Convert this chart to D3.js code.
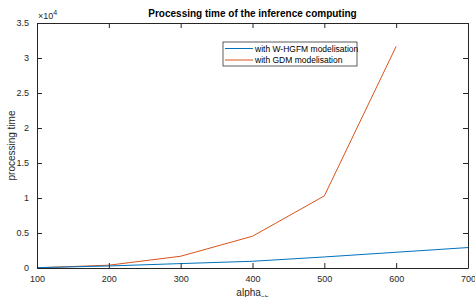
<!DOCTYPE html>
<html>
<head>
<meta charset="utf-8">
<script src="https://cdn.jsdelivr.net/npm/d3@7"></script>
<style>
  body { margin: 0; background: #fff; }
  svg { display: block; font-family: "Liberation Sans", Arial, sans-serif; }
</style>
</head>
<body>
<div id="chart"></div>
<script>
// values
const alpha = [100, 200, 300, 400, 500, 600, 700];
const hgfmTime = [50, 290, 630, 960, 1580, 2250, 2920];
const gdmAlpha = [100, 200, 300, 400, 500, 600];
const gdmTime = [30, 400, 1680, 4540, 10300, 31660];
const yTicks = [0, 0.5, 1, 1.5, 2, 2.5, 3, 3.5];
const seriesNames = ['with W-HGFM modelisation', 'with GDM modelisation'];

const width = 475, height = 297;
const margin = { top: 23, right: 7, bottom: 29, left: 37 };
const axisColor = '#262626';

const svg = d3.select('#chart').append('svg')
  .attr('width', width)
  .attr('height', height);

const x = d3.scaleLinear().domain([100, 700]).range([margin.left, width - margin.right]);
const y = d3.scaleLinear().domain([0, 35000]).range([height - margin.bottom, margin.top]);

const line = d3.line().x(d => x(d[0])).y(d => y(d[1]));

// plot lines
svg.append('path')
  .datum(d3.zip(gdmAlpha, gdmTime))
  .attr('d', line)
  .attr('fill', 'none')
  .attr('stroke', '#D95319')
  .attr('stroke-width', 1);

svg.append('path')
  .datum(d3.zip(alpha, hgfmTime))
  .attr('d', line)
  .attr('fill', 'none')
  .attr('stroke', '#0072BD')
  .attr('stroke-width', 1);

// axes, matlab style (ticks inside, box all round)
const tickLen = 5;
const styleAxis = g => {
  g.select('.domain').attr('stroke', axisColor);
  g.selectAll('.tick line').attr('stroke', axisColor);
  g.selectAll('.tick text').attr('fill', axisColor).style('font-size', '9px');
};

svg.append('g')
  .attr('transform', `translate(0,${y(0)})`)
  .call(d3.axisBottom(x).tickValues(alpha).tickSizeInner(-tickLen).tickSizeOuter(0).tickPadding(8))
  .call(styleAxis);

svg.append('g')
  .attr('transform', `translate(0,${y(35000)})`)
  .call(d3.axisTop(x).tickValues(alpha).tickSizeInner(-tickLen).tickSizeOuter(0).tickFormat(''))
  .call(styleAxis);

svg.append('g')
  .attr('transform', `translate(${x(100)},0)`)
  .call(d3.axisLeft(y).tickValues(yTicks.map(v => v * 1e4)).tickSizeInner(-tickLen).tickSizeOuter(0)
    .tickPadding(8).tickFormat(v => d3.format('~g')(v / 1e4)))
  .call(styleAxis);

svg.append('g')
  .attr('transform', `translate(${x(700)},0)`)
  .call(d3.axisRight(y).tickValues(yTicks.map(v => v * 1e4)).tickSizeInner(-tickLen).tickSizeOuter(0).tickFormat(''))
  .call(styleAxis);

// exponent label
const expo = svg.append('text')
  .attr('x', x(100) + 1)
  .attr('y', 19)
  .attr('fill', axisColor)
  .style('font-size', '9px');
expo.append('tspan').text('\u00d710');
expo.append('tspan').attr('dy', -4).style('font-size', '7px').text('4');

// title
svg.append('text')
  .attr('x', (x(100) + x(700)) / 2)
  .attr('y', 17)
  .attr('text-anchor', 'middle')
  .attr('font-weight', 'bold')
  .style('font-size', '10px')
  .attr('fill', '#000')
  .text('Processing time of the inference computing');

// axis titles
svg.append('text')
  .attr('transform', `translate(15,${(y(0) + y(35000)) / 2}) rotate(-90)`)
  .attr('text-anchor', 'middle')
  .attr('fill', axisColor)
  .style('font-size', '10px')
  .text('processing time');

const xl = svg.append('text')
  .attr('x', (x(100) + x(700)) / 2)
  .attr('y', 296)
  .attr('text-anchor', 'middle')
  .attr('fill', axisColor)
  .style('font-size', '10px');
xl.append('tspan').text('alpha');
xl.append('tspan').attr('dy', 4).style('font-size', '7px').text('ob');

// legend
const lg = svg.append('g').attr('transform', 'translate(223,42)');
lg.append('rect')
  .attr('width', 134)
  .attr('height', 24)
  .attr('fill', '#fff')
  .attr('stroke', axisColor)
  .attr('stroke-width', 0.75);
const colors = ['#0072BD', '#D95319'];
seriesNames.forEach((name, i) => {
  const ry = 6.5 + i * 11.5;
  lg.append('line')
    .attr('x1', 2).attr('x2', 30)
    .attr('y1', ry).attr('y2', ry)
    .attr('stroke', colors[i]);
  lg.append('text')
    .attr('x', 32)
    .attr('y', ry + 3)
    .attr('fill', '#000')
    .style('font-size', '8.5px')
    .text(name);
});
</script>
</body>
</html>
